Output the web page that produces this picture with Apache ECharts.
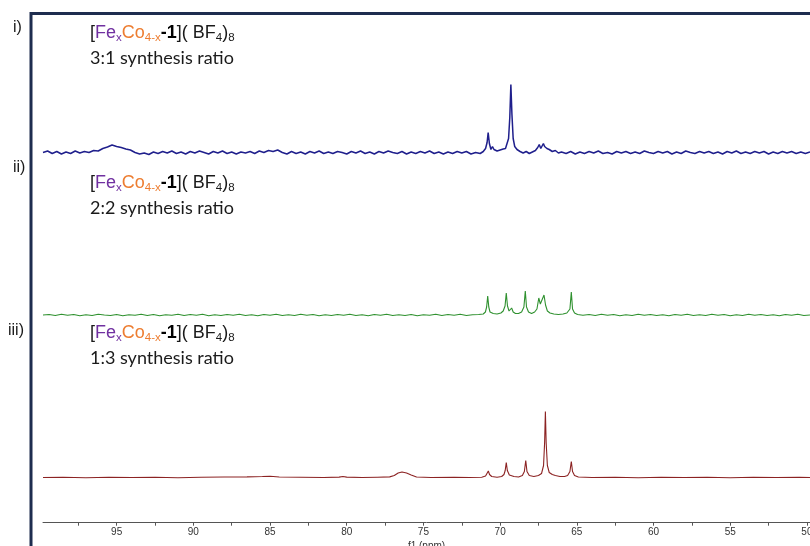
<!DOCTYPE html>
<html><head><meta charset="utf-8">
<script src="https://cdn.jsdelivr.net/npm/echarts@6/dist/echarts.min.js"></script>
<style>html,body{margin:0;padding:0;background:#fff}#c{width:810px;height:546px}</style>
</head><body><div id="c"></div>
<script>
// x-axis range (ppm), reversed
const ppmMin = 49.8, ppmMax = 99.8;
const labelTicks = [50,55,60,65,70,75,80,85,90,95];
const minorTicks = [50,52.5,55,57.5,60,62.5,65,67.5,70,72.5,75,77.5,80,82.5,85,87.5,90,92.5,95,97.5];
const panelLabels = ['i)','ii)','iii)'];
const ratioLabels = ['3:1 synthesis ratio','2:2 synthesis ratio','1:3 synthesis ratio'];

// spectrum i) 3:1 (ppm, intensity)
const spec1 = [[99.8,0],[99.5,1.5],[99.2,-1],[98.9,1],[98.6,-1.5],[98.3,0.5],[98,-1],[97.7,1.5],[97.4,-0.5],[97.1,1],[96.8,0],[96.5,2],[96.2,1.5],[95.9,4],[95.6,5.5],[95.3,7.5],[95,6],[94.7,5],[94.4,3.5],[94.1,2.5],[93.8,0],[93.5,-1.5],[93.2,-0.5],[92.9,-2],[92.6,0.5],[92.3,-1],[92,1],[91.7,-0.5],[91.4,1.5],[91.1,-1],[90.8,0.5],[90.5,-1.5],[90.2,1],[89.9,-0.5],[89.6,1.5],[89.3,0],[89,-1.5],[88.7,1],[88.4,-0.5],[88.1,1.5],[87.8,-1],[87.5,0.5],[87.2,-1.5],[86.9,0.5],[86.6,-0.5],[86.3,1],[86,-1],[85.7,1.5],[85.4,0],[85.1,2],[84.8,1],[84.5,2.5],[84.2,0],[83.9,-1.5],[83.6,1],[83.3,-1],[83,0.5],[82.7,-1.5],[82.4,1],[82.1,-0.5],[81.8,1.5],[81.5,-1],[81.2,0.5],[80.9,-1],[80.6,1],[80.3,0],[80,-1.5],[79.7,1],[79.4,-0.5],[79.1,1.5],[78.8,-1],[78.5,0.5],[78.2,-1.5],[77.9,1],[77.6,-0.5],[77.3,1.5],[77,0],[76.7,-1],[76.4,1],[76.1,-1.5],[75.8,0.5],[75.5,-1],[75.2,1],[74.9,-0.5],[74.6,1.5],[74.3,-1],[74,0.5],[73.7,-1.5],[73.4,0.5],[73.1,-1],[72.8,1],[72.5,-0.5],[72.2,1],[71.9,-1.5],[71.6,0],[71.3,-1],[71.1,1],[70.95,4],[70.85,10],[70.78,20],[70.7,9],[70.6,3],[70.5,6],[70.4,3],[70.2,1.5],[70,2.5],[69.8,3.5],[69.65,4],[69.55,6],[69.45,14],[69.37,35],[69.3,68],[69.23,38],[69.15,14],[69.05,6],[68.9,3],[68.7,1],[68.5,-0.5],[68.3,1],[68.1,-1],[67.9,0.5],[67.7,2],[67.55,5],[67.45,8],[67.35,4],[67.25,6],[67.18,9],[67.1,6],[66.95,4],[66.8,3],[66.6,1],[66.4,2],[66.2,-0.5],[66,0.5],[65.7,-1],[65.4,1],[65.1,-1.5],[64.8,0.5],[64.5,-1],[64.2,1],[63.9,-0.5],[63.6,1.5],[63.3,-1],[63,0],[62.7,-1.5],[62.4,1],[62.1,-0.5],[61.8,1],[61.5,-1],[61.2,0.5],[60.9,-1],[60.6,1.5],[60.3,0],[60,-1],[59.7,1],[59.4,-0.5],[59.1,1],[58.8,-1.5],[58.5,0.5],[58.2,-1],[57.9,1.5],[57.6,0],[57.3,-1],[57,1],[56.7,-0.5],[56.4,1],[56.1,-1],[55.8,0.5],[55.5,-1.5],[55.2,1],[54.9,-0.5],[54.6,1.5],[54.3,-1],[54,0.5],[53.7,-1],[53.4,1],[53.1,-0.5],[52.8,1],[52.5,-1.5],[52.2,0.5],[51.9,-1],[51.6,1],[51.3,-0.5],[51,1],[50.7,-1],[50.4,0.5],[50.1,-1],[49.8,0.5]];

// spectrum ii) 2:2
const spec2 = [[99.8,0],[99.4,0.5],[99,-0.5],[98.6,0.8],[98.2,-0.3],[97.8,0.5],[97.4,-0.8],[97,0.3],[96.6,-0.5],[96.2,0.8],[95.8,0],[95.4,-0.5],[95,0.5],[94.6,-0.8],[94.2,0.3],[93.8,-0.3],[93.4,0.8],[93,-0.5],[92.6,0.5],[92.2,-0.8],[91.8,0.3],[91.4,-0.3],[91,0.8],[90.6,-0.5],[90.2,0.5],[89.8,-0.3],[89.4,0.8],[89,-0.8],[88.6,0.3],[88.2,-0.5],[87.8,0.5],[87.4,-0.3],[87,0.8],[86.6,-0.5],[86.2,0.3],[85.8,-0.8],[85.4,0.5],[85,-0.3],[84.6,0.8],[84.2,-0.5],[83.8,0.3],[83.4,-0.5],[83,0.8],[82.6,-0.3],[82.2,0.5],[81.8,-0.8],[81.4,0.3],[81,-0.5],[80.6,0.5],[80.2,-0.3],[79.8,0.8],[79.4,-0.5],[79,0.3],[78.6,-0.8],[78.2,0.5],[77.8,-0.3],[77.4,0.8],[77,-0.5],[76.6,0.3],[76.2,-0.5],[75.8,0.5],[75.4,-0.8],[75,0.3],[74.6,-0.3],[74.2,0.8],[73.8,-0.5],[73.4,0.5],[73,-0.3],[72.6,0.8],[72.2,-0.5],[71.8,0.3],[71.4,0.5],[71.1,1],[70.96,3],[70.88,8],[70.81,19],[70.74,8],[70.66,3],[70.45,1.5],[70.2,1],[69.95,2],[69.8,4],[69.68,9],[69.6,22],[69.52,9],[69.42,4],[69.32,4],[69.25,7],[69.15,3],[69,1.5],[68.8,1.5],[68.6,3],[68.45,8],[68.36,24],[68.28,8],[68.15,3],[67.95,1.5],[67.75,3],[67.6,6],[67.48,17],[67.38,11],[67.28,12],[67.14,20],[67.04,10],[66.92,4],[66.75,2],[66.5,1],[66.2,0.5],[65.9,1],[65.65,2],[65.45,6],[65.36,23],[65.28,6],[65.15,2],[64.95,0.5],[64.6,-0.3],[64.2,0.5],[63.8,-0.5],[63.4,0.8],[63,-0.3],[62.6,0.5],[62.2,-0.8],[61.8,0.3],[61.4,-0.5],[61,0.8],[60.6,-0.3],[60.2,0.5],[59.8,-0.5],[59.4,0.3],[59,-0.8],[58.6,0.5],[58.2,-0.3],[57.8,0.8],[57.4,-0.5],[57,0.3],[56.6,-0.5],[56.2,0.8],[55.8,-0.3],[55.4,0.5],[55,-0.8],[54.6,0.3],[54.2,-0.5],[53.8,0.8],[53.4,-0.3],[53,0.5],[52.6,-0.5],[52.2,0.3],[51.8,-0.8],[51.4,0.5],[51,-0.3],[50.6,0.8],[50.2,-0.5],[49.8,0]];

// spectrum iii) 1:3
const spec3 = [[99.8,0],[98.5,0.3],[97,-0.2],[95.5,0.3],[94,0],[92.5,0.3],[91,-0.2],[89.5,0.3],[88,0.5],[86.5,0.6],[85.5,1],[85,1.3],[84.4,0.5],[83,0.3],[81.5,0],[80.5,0.4],[80.25,1],[80,0.4],[79,0],[78,0.3],[77.2,0.6],[76.9,2],[76.65,4.5],[76.4,5.5],[76.1,4.5],[75.8,2.5],[75.45,0.5],[74.5,0],[73,0.2],[72,0],[71.2,0.3],[70.95,1.5],[70.85,3],[70.77,6.5],[70.69,3],[70.55,1],[70.2,0.3],[69.9,1],[69.75,3],[69.67,7],[69.6,15],[69.53,7],[69.4,2.5],[69.1,1],[68.8,0.5],[68.55,2],[68.42,6],[68.33,17],[68.25,6],[68.1,2],[67.8,1],[67.5,2],[67.3,4],[67.17,12],[67.1,35],[67.05,66],[67,35],[66.92,12],[66.8,5],[66.6,3],[66.4,2],[66.1,1],[65.8,1],[65.6,2],[65.45,6],[65.36,16],[65.28,6],[65.15,2],[64.9,0.5],[64,0],[62.5,0.2],[61,-0.2],[59.5,0.2],[58,0],[56.5,0.2],[55,-0.2],[53.5,0.2],[52,0],[50.5,0.2],[49.8,0]];

const colors = ['#1f1f8c','#2f912f','#8c2323'];

const chart = echarts.init(document.getElementById('c'), null, {renderer:'canvas'});

const formula = '{n|[}{fe|Fe}{fes|x}{co|Co}{cos|4-x}{bd|-1}{n|]( BF}{s|4}{n|)}{s|8}';
const richStyles = {
  n:{fontFamily:'Liberation Sans',fontSize:18,fill:'#1a1a1a',lineHeight:22},
  fe:{fontFamily:'Liberation Sans',fontSize:18,fill:'#7030a0',lineHeight:22},
  co:{fontFamily:'Liberation Sans',fontSize:18,fill:'#ed7d31',lineHeight:22},
  bd:{fontFamily:'Liberation Sans',fontSize:18,fontWeight:'bold',fill:'#000',lineHeight:22},
  fes:{fontFamily:'Liberation Sans',fontSize:11.5,fill:'#7030a0',verticalAlign:'bottom',lineHeight:22,padding:[7,0,0,0]},
  cos:{fontFamily:'Liberation Sans',fontSize:11.5,fill:'#ed7d31',verticalAlign:'bottom',lineHeight:22,padding:[7,0,0,0]},
  s:{fontFamily:'Liberation Sans',fontSize:11.5,fill:'#1a1a1a',verticalAlign:'bottom',lineHeight:22,padding:[7,0,0,0]}
};

const baseY = [33, 183, 333];
const labelY = [28, 168, 331];
const graphics = [
  {type:'polyline', shape:{points:[[31,546],[31,13.5],[810,13.5]]}, style:{stroke:'#1e2d4f', lineWidth:3, fill:null}}
];
for (let i=0;i<3;i++){
  graphics.push({type:'text', x:90, y:baseY[i], style:{text:formula, rich:richStyles, verticalAlign:'middle', align:'left'}});
  graphics.push({type:'text', x:90, y:baseY[i]+25, style:{text:ratioLabels[i], fontFamily:'Lato', fontSize:18, fill:'#1a1a1a', verticalAlign:'middle', align:'left'}});
  graphics.push({type:'text', x:i===2?8:13, y:labelY[i], style:{text:panelLabels[i], fontFamily:'Liberation Sans', fontSize:16, fill:'#1a1a1a', verticalAlign:'middle', align:'left'}});
}

const hiddenX = (g)=>({type:'value', gridIndex:g, min:ppmMin, max:ppmMax, inverse:true, show:false});
const gridBase = {left:43, right:0, containLabel:false, outerBoundsMode:'none'};
const option = {
  animation:false,
  backgroundColor:'#fff',
  grid:[
    Object.assign({top:72.5, height:90}, gridBase),
    Object.assign({top:235, height:90}, gridBase),
    Object.assign({top:400, height:122.7}, gridBase)
  ],
  xAxis:[
    hiddenX(0), hiddenX(1),
    {type:'value', gridIndex:2, min:ppmMin, max:ppmMax, inverse:true,
     name:'f1 (ppm)', nameLocation:'middle', nameGap:19,
     nameTextStyle:{fontSize:10, color:'#333', fontFamily:'Liberation Sans'},
     splitLine:{show:false},
     axisLine:{show:true, onZero:false, lineStyle:{color:'#555', width:1}},
     axisTick:{show:true, length:3, customValues:minorTicks, lineStyle:{color:'#555'}},
     axisLabel:{customValues:labelTicks, fontSize:10, color:'#333', margin:5, fontFamily:'Liberation Sans'}}
  ],
  yAxis:[
    {type:'value', gridIndex:0, min:-10, max:80, show:false},
    {type:'value', gridIndex:1, min:-10, max:80, show:false},
    {type:'value', gridIndex:2, min:-45.2, max:77.5, show:false}
  ],
  series:[
    {type:'line', xAxisIndex:0, yAxisIndex:0, data:spec1, showSymbol:false, lineStyle:{color:colors[0], width:1.5}},
    {type:'line', xAxisIndex:1, yAxisIndex:1, data:spec2, showSymbol:false, lineStyle:{color:colors[1], width:1.1}},
    {type:'line', xAxisIndex:2, yAxisIndex:2, data:spec3, showSymbol:false, lineStyle:{color:colors[2], width:1.1}}
  ],
  graphic:graphics
};
chart.setOption(option);
</script></body></html>
